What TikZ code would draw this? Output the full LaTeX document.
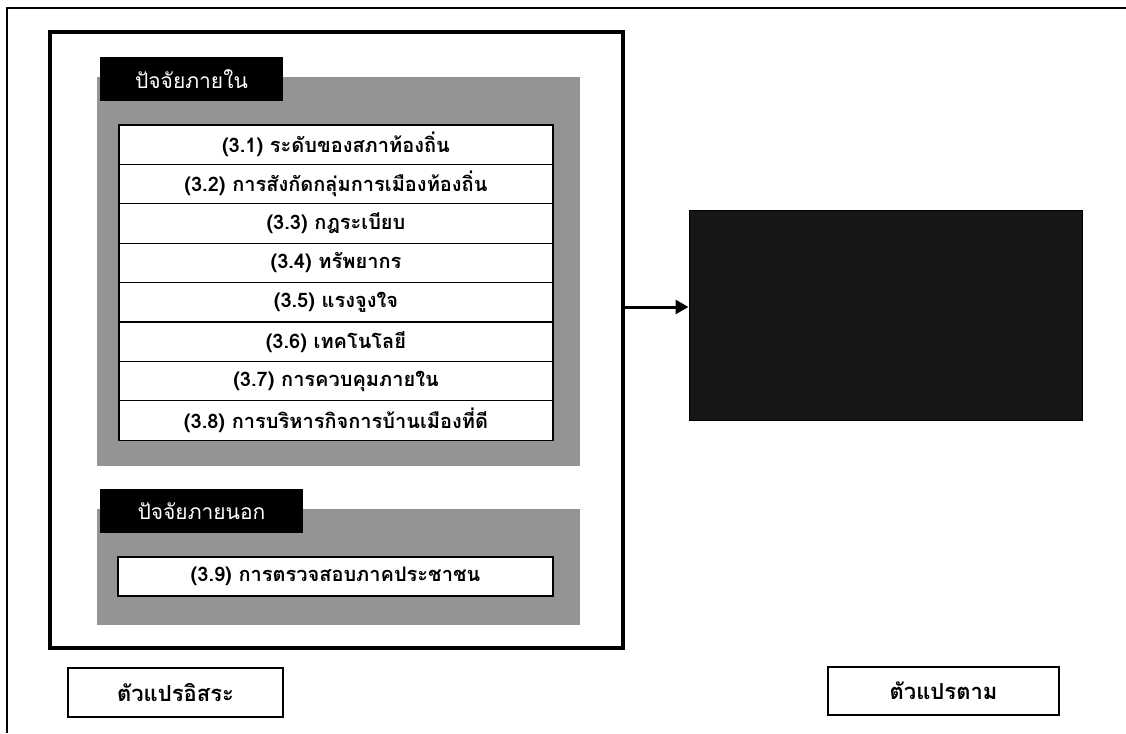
\documentclass[tikz,border=0pt]{standalone}
\usepackage{fontspec}
\newfontfamily\thai[Script=Thai]{Loma}
\usetikzlibrary{arrows.meta}
\definecolor{panelgray}{RGB}{148,148,148}
\definecolor{darkfill}{RGB}{22,22,22}
\begin{document}
\begin{tikzpicture}[x=1pt,y=-1pt,
  itembox/.style={draw=black, line width=1.3pt, fill=white, minimum width=434pt,
    minimum height=39.4pt, inner sep=0pt, font=\thai\bfseries\fontsize{20}{22}\selectfont},
  headbox/.style={fill=black, text=white, minimum height=44pt, inner sep=0pt,
    font=\thai\fontsize{21}{23}\selectfont},
  panel/.style={fill=panelgray, draw=none},
  labelbox/.style={draw=black, line width=1.8pt, fill=white, inner sep=0pt,
    font=\thai\bfseries\fontsize{22}{24}\selectfont},
  frameline/.style={draw=black}
]
\useasboundingbox (0,0) rectangle (1126,733);
\fill[white] (0,0) rectangle (1126,733);
% outer frame (top and left edges)
\draw[frameline, line width=2.5pt] (6.4,8) -- (1126,8);
\draw[frameline, line width=1.2pt] (7,8) -- (7,733);
% independent variables box
\node[draw=black, line width=3.5pt, minimum width=573pt, minimum height=616pt, inner sep=0pt] (indep) at (336.5,340) {};
% panels
\path[panel] (97,77) rectangle (580,466);
\path[panel] (97,509) rectangle (580,625);
% headers
\node[headbox, minimum width=183pt] (h1) at (191.5,79) {ปัจจัยภายใน};
\node[headbox, minimum width=203pt] (h2) at (201.5,511) {ปัจจัยภายนอก};
% items
\node[itembox] (i1) at (336,144.7) {(3.1) ระดับของสภาท้องถิ่น};
\node[itembox] (i2) at (336,184.1) {(3.2) การสังกัดกลุ่มการเมืองท้องถิ่น};
\node[itembox] (i3) at (336,223.5) {(3.3) กฎระเบียบ};
\node[itembox] (i4) at (336,262.9) {(3.4) ทรัพยากร};
\node[itembox] (i5) at (336,302.3) {(3.5) แรงจูงใจ};
\node[itembox] (i6) at (336,341.7) {(3.6) เทคโนโลยี};
\node[itembox] (i7) at (336,381.1) {(3.7) การควบคุมภายใน};
\node[itembox] (i8) at (336,420.5) {(3.8) การบริหารกิจการบ้านเมืองที่ดี};
\node[itembox, minimum width=435pt, minimum height=39pt] (i9) at (335.5,576.5) {(3.9) การตรวจสอบภาคประชาชน};
% dependent variable box
\node[fill=darkfill, draw=black, line width=1pt, minimum width=393pt, minimum height=210pt, inner sep=0pt] (dv) at (885.5,315) {};
% arrow
\coordinate (tip) at ([yshift=8pt]dv.west);
\draw[line width=3pt, -{Triangle[length=13pt,width=14pt]}] (tip -| indep.east) -- (tip);
% bottom labels
\node[labelbox, minimum width=215pt, minimum height=49pt] (lb1) at (175.5,692.5) {ตัวแปรอิสระ};
\node[labelbox, minimum width=231pt, minimum height=48pt] (lb2) at (943.5,691) {ตัวแปรตาม};
\end{tikzpicture}
\end{document}
